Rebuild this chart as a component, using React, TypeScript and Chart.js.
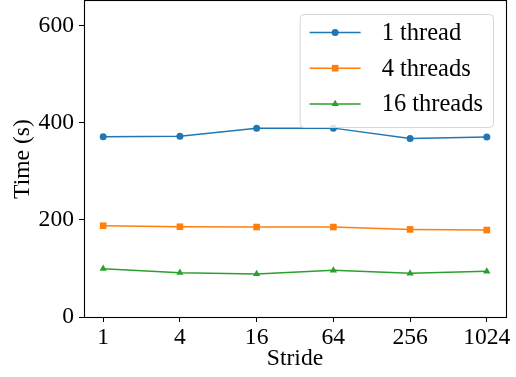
import { useEffect, useRef } from 'react';
import { Chart, registerables } from 'chart.js';

Chart.register(...registerables);

const strides = ['1', '4', '16', '64', '256', '1024'];
const yTickValues = [0, 200, 400, 600];
const oneThread = [370.6, 372, 388.5, 388.5, 367.3, 370];
const fourThreads = [187.7, 185.6, 185, 185, 180.2, 178.8];
const sixteenThreads = [99.3, 91, 88.4, 96, 89.8, 93.9];
const seriesLabels = ['1 thread', '4 threads', '16 threads'];
const seriesColors = ['#1f77b4', '#ff7f0e', '#2ca02c'];
const seriesStyles = ['circle', 'rect', 'triangle'];
const seriesRadius = [3.5, 4.7, 4.2];

const FONT = '"Liberation Serif", "DejaVu Serif", serif';
const FS = 23.6;
const LFS = 24.5;

function drawMarker(ctx: CanvasRenderingContext2D, style: string, x: number, y: number, r: number) {
  ctx.beginPath();
  if (style === 'circle') {
    ctx.arc(x, y, r, 0, Math.PI * 2);
  } else if (style === 'rect') {
    const s = Math.SQRT1_2 * r;
    ctx.rect(x - s, y - s, 2 * s, 2 * s);
  } else {
    let rad = 0;
    ctx.moveTo(x + Math.sin(rad) * r, y - Math.cos(rad) * r);
    rad += (2 * Math.PI) / 3;
    ctx.lineTo(x + Math.sin(rad) * r, y - Math.cos(rad) * r);
    rad += (2 * Math.PI) / 3;
    ctx.lineTo(x + Math.sin(rad) * r, y - Math.cos(rad) * r);
    ctx.closePath();
  }
  ctx.fill();
}

const zeroPad = () => ({ left: 0, top: 0, right: 0, bottom: 0 });

const framePlugin = {
  id: 'mplFrame',
  afterDraw(chart: any) {
    const { ctx, chartArea } = chart;
    ctx.save();
    ctx.strokeStyle = '#000';
    ctx.lineWidth = 1.1;
    ctx.strokeRect(chartArea.left + 0.5, chartArea.top - 0.5, chartArea.right - chartArea.left, chartArea.bottom - chartArea.top + 1);
    ctx.restore();
  },
};

const legendPlugin = {
  id: 'mplLegend',
  afterDraw(chart: any) {
    const { ctx, chartArea } = chart;
    ctx.save();
    ctx.font = `${LFS}px ${FONT}`;
    const textW = Math.max(...seriesLabels.map((l) => ctx.measureText(l).width));
    const padL = 10, lineLen = 51, gap = 21, padR = 10;
    const width = padL + lineLen + gap + textW + padR;
    const right = chartArea.right - 13;
    const top = chartArea.top + 13;
    const left = right - width;
    const height = 113;
    const rowH = 35.7;
    ctx.beginPath();
    ctx.roundRect(left + 0.5, top + 0.5, width, height, 4);
    ctx.fillStyle = 'rgba(255,255,255,0.8)';
    ctx.fill();
    ctx.strokeStyle = '#d6d6d6';
    ctx.lineWidth = 1;
    ctx.stroke();
    seriesLabels.forEach((lab, i) => {
      const y = top + 18.5 + i * rowH;
      const x0 = left + padL;
      ctx.strokeStyle = seriesColors[i];
      ctx.fillStyle = seriesColors[i];
      ctx.lineWidth = 1.5;
      ctx.beginPath();
      ctx.moveTo(x0, y);
      ctx.lineTo(x0 + lineLen, y);
      ctx.stroke();
      drawMarker(ctx, seriesStyles[i], x0 + lineLen / 2, y, seriesRadius[i]);
      ctx.fillStyle = '#000';
      ctx.textBaseline = 'middle';
      ctx.textAlign = 'left';
      ctx.fillText(lab, x0 + lineLen + gap, y + 1);
    });
    ctx.restore();
  },
};

export default function App() {
  const ref = useRef<HTMLCanvasElement | null>(null);

  useEffect(() => {
    document.body.style.margin = '0';
    const canvas = ref.current;
    if (!canvas) return;
    const series = [oneThread, fourThreads, sixteenThreads];
    const chart = new Chart(canvas, {
      type: 'line',
      data: {
        datasets: series.map((vals, i) => ({
          label: seriesLabels[i],
          data: vals.map((v, j) => ({ x: j, y: v })),
          borderColor: seriesColors[i],
          backgroundColor: seriesColors[i],
          borderWidth: 1.5,
          pointStyle: seriesStyles[i] as any,
          pointRadius: seriesRadius[i],
          pointBorderWidth: 0,
          pointHoverRadius: seriesRadius[i],
          fill: false,
          tension: 0,
        })),
      },
      options: {
        responsive: false,
        animation: false,
        events: [],
        layout: { autoPadding: false, padding: { left: 0, right: 10, top: 1, bottom: 0 } },
        plugins: {
          legend: { display: false },
          tooltip: { enabled: false },
        },
        scales: {
          x: {
            type: 'linear',
            min: -0.25,
            max: 5.25,
            afterBuildTicks: (scale: any) => {
              scale.ticks = strides.map((_, i) => ({ value: i }));
            },
            afterFit: (scale: any) => {
              scale.height = 60;
              scale.paddingLeft = 0;
              scale.paddingRight = 0;
              scale.paddingTop = 0;
              scale.paddingBottom = 0;
              scale.getPadding = zeroPad;
            },
            ticks: {
              autoSkip: false,
              maxRotation: 0,
              color: '#000',
              padding: 2,
              font: { family: FONT, size: FS },
              callback: (v: any) => strides[v as number],
            },
            grid: { drawOnChartArea: false, tickLength: 5, color: '#000', tickWidth: 1 },
            border: { display: false },
            title: {
              display: true,
              text: 'Stride',
              color: '#000',
              font: { family: FONT, size: FS },
              padding: { top: 0, bottom: 4 },
            },
          },
          y: {
            type: 'linear',
            min: 0,
            max: 650,
            afterBuildTicks: (scale: any) => {
              scale.ticks = yTickValues.map((v) => ({ value: v }));
            },
            afterFit: (scale: any) => {
              scale.width = 84;
              scale.paddingLeft = 0;
              scale.paddingRight = 0;
              scale.paddingTop = 0;
              scale.paddingBottom = 0;
              scale.getPadding = zeroPad;
            },
            ticks: {
              color: '#000',
              padding: 5,
              font: { family: FONT, size: FS },
              callback: (v: any) => String(v),
            },
            grid: { drawOnChartArea: false, tickLength: 5, color: '#000', tickWidth: 1 },
            border: { display: false },
            title: {
              display: true,
              text: 'Time (s)',
              color: '#000',
              font: { family: FONT, size: FS },
              padding: { top: 9, bottom: 0 },
            },
          },
        },
      },
      plugins: [framePlugin, legendPlugin],
    });
    return () => chart.destroy();
  }, []);

  return (
    <div style={{ position: 'absolute', left: 0, top: 0, width: 516, height: 377 }}>
      <canvas ref={ref} width={516} height={377} />
    </div>
  );
}
